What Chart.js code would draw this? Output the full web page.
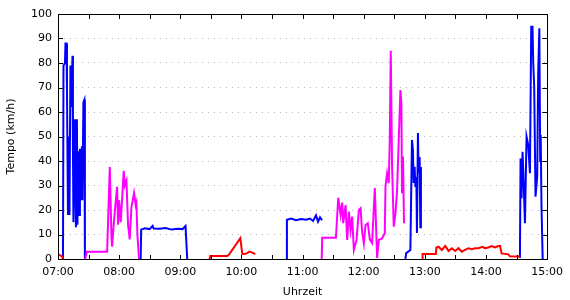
<!DOCTYPE html>
<html>
<head>
<meta charset="utf-8">
<script src="https://cdn.jsdelivr.net/npm/chart.js@4.4.1/dist/chart.umd.min.js"></script>
<style>
	html, body { margin: 0; padding: 0; background: #fff; }
	#wrap { width: 570px; height: 300px; }
</style>
</head>
<body>
<div id="wrap"><canvas id="chart" width="570" height="300"></canvas></div>
<script>
// clock time and speed (km/h), null speed = gap between track parts
var redTimes = ['07:00:00', '07:02:00', '07:03:36', '07:05:10',
	'07:06:00',
	'09:28:36', '09:29:34', '09:46:12', '09:48:09', '09:58:54', '10:00:51', '10:02:49', '10:05:45', '10:07:42', '10:10:38', '10:13:34',
	'10:20:00',
	'12:57:18', '12:57:47', '13:10:48', '13:11:12', '13:13:26', '13:16:42', '13:19:59', '13:23:13', '13:26:27', '13:29:46', '13:33:00',
	'13:36:14', '13:39:31', '13:42:45', '13:45:59', '13:49:18', '13:52:32', '13:56:27', '13:59:04', '14:02:20', '14:05:35', '14:08:51',
	'14:12:05', '14:13:45', '14:15:20', '14:21:53', '14:23:31', '14:31:38', '14:33:18'];
var redSpeeds = [1.8, 1.6, 1.1, 0,
	null,
	0, 1.2, 1.2, 2, 8.5, 2, 2, 2.4, 3, 2.6, 2,
	null,
	0, 2, 2, 4.6, 5, 3.7, 5.3, 3.3, 4.4, 3.3, 4.4,
	3, 3.7, 4.4, 4, 4.4, 4.4, 5, 4.4, 4.7, 5.3, 4.7,
	5.3, 5.3, 2.3, 1.9, 1.1, 1, 0.8];

var magentaTimes = ['07:26:40', '07:28:21', '07:48:12', '07:50:50', '07:52:30', '07:53:05', '07:55:14', '07:57:58', '07:58:57', '07:59:56',
	'08:01:35', '08:04:31', '08:05:30', '08:07:10', '08:08:44', '08:10:23', '08:12:03', '08:14:36', '08:16:15', '08:16:56', '08:17:55', '08:19:29',
	'08:30:00',
	'11:18:46', '11:19:15', '11:32:44', '11:35:00', '11:37:20', '11:38:54', '11:39:53', '11:42:13', '11:43:47', '11:45:27', '11:47:07',
	'11:48:40', '11:50:20', '11:52:58', '11:55:14', '11:56:54', '11:58:28', '12:00:08', '12:01:46', '12:04:01', '12:06:00', '12:08:14',
	'12:10:53', '12:13:08', '12:14:48', '12:18:02', '12:20:40', '12:21:21', '12:22:55', '12:24:35', '12:25:33', '12:26:32', '12:27:50',
	'12:29:29', '12:31:09', '12:32:44', '12:34:22', '12:36:01', '12:36:59', '12:37:35', '12:38:33', '12:39:32'];
var magentaSpeeds = [0, 3, 3, 37.5, 8.5, 5, 17, 29.5, 14, 24,
	15, 36, 30, 32, 14, 8, 21, 27, 22, 23, 10, 0,
	null,
	0, 8.7, 8.7, 25, 18, 23, 14.6, 22, 7.8, 19.3, 11.8,
	17.3, 3.7, 7.8, 20, 20.7, 11, 6.4, 13.9, 14.6, 8, 6.5,
	29, 0.4, 7.8, 8.4, 10.5, 29.5, 35, 31, 48.6, 85, 37.7,
	13.2, 18.6, 28, 48.6, 69, 63.5, 26.8, 41.8, 14.6];

var blueTimes = ['07:04:54', '07:05:23', '07:06:50', '07:07:20', '07:08:19', '07:08:48', '07:09:47', '07:10:45', '07:11:15', '07:12:13',
	'07:13:12', '07:14:11', '07:14:40', '07:15:09', '07:16:08', '07:16:37', '07:17:36', '07:18:34', '07:19:04', '07:20:02', '07:21:01',
	'07:21:30', '07:22:29', '07:23:28', '07:23:57', '07:24:56', '07:25:54', '07:26:24',
	'07:40:00',
	'08:21:08', '08:21:37', '08:25:03', '08:29:56', '08:32:53', '08:33:51', '08:39:43', '08:45:35', '08:51:27', '08:57:19', '09:02:12',
	'09:05:08', '09:06:48',
	'09:20:00',
	'10:44:09', '10:44:38', '10:48:45', '10:53:39', '10:58:32', '11:03:25', '11:07:20', '11:10:16', '11:13:12', '11:15:10', '11:17:07', '11:19:05',
	'11:30:00',
	'12:40:54', '12:41:42', '12:45:47', '12:47:20', '12:48:18', '12:49:00', '12:49:59', '12:50:40', '12:51:38', '12:52:14', '12:53:12',
	'12:53:53', '12:54:52', '12:55:33', '12:56:08',
	'13:30:00',
	'14:33:18', '14:33:54', '14:34:52', '14:35:51', '14:36:36', '14:38:13', '14:39:47', '14:41:28', '14:43:07', '14:44:23', '14:45:38',
	'14:46:19', '14:47:17', '14:48:35', '14:50:14', '14:51:12', '14:52:20', '14:53:10', '14:53:40', '14:54:26', '14:55:36'];
var blueSpeeds = [0, 79, 80, 88, 88, 69, 18, 50, 18, 79,
	62, 83, 45, 15, 42, 57, 13, 57, 14, 44, 18,
	45, 24, 46, 24, 64, 65, 0,
	null,
	0, 12, 12.5, 12.2, 13.5, 12.4, 12.3, 12.6, 12, 12.3, 12.2,
	13.5, 0,
	null,
	0, 16, 16.5, 15.8, 16.3, 16, 16.5, 15.5, 17.8, 15.2, 17, 15.8,
	null,
	0, 2.4, 3.7, 48.6, 44.5, 31, 37.6, 29.4, 33.5, 10.6, 51.4,
	35, 41.6, 13, 37.6,
	null,
	0.4, 41, 24.8, 43.8, 35.6, 14.6, 50, 46.5, 35, 94.8, 94.8,
	80.5, 70.3, 25.4, 33.6, 75.8, 94.2, 40, 50.6, 22, 0];

var hourTicks = ['07:00', '08:00', '09:00', '10:00', '11:00', '12:00', '13:00', '14:00', '15:00'];

function toHours(t) {
	var p = t.split(':');
	return +p[0] + p[1] / 60 + (p[2] || 0) / 3600;
}

function points(times, speeds) {
	return times.map(function (t, i) {
		return { x: toHours(t), y: speeds[i] };
	});
}

// black frame round the plot with small inward ticks
var framePlugin = {
	id: 'frame',
	afterDatasetsDraw: function (chart) {
		var ctx = chart.ctx;
		var a = chart.chartArea;
		var xs = chart.scales.x;
		var ys = chart.scales.y;
		ctx.save();
		ctx.strokeStyle = '#000';
		ctx.lineWidth = 1;
		ctx.beginPath();
		ys.ticks.forEach(function (tk) {
			var y = Math.round(ys.getPixelForValue(tk.value)) + 0.5;
			ctx.moveTo(a.left, y); ctx.lineTo(a.left + 5, y);
			ctx.moveTo(a.right, y); ctx.lineTo(a.right - 5, y);
		});
		xs.ticks.forEach(function (tk) {
			var x = Math.round(xs.getPixelForValue(tk.value)) + 0.5;
			ctx.moveTo(x, a.top); ctx.lineTo(x, a.top + 5);
			ctx.moveTo(x, a.bottom); ctx.lineTo(x, a.bottom - 4);
		});
		ctx.stroke();
		ctx.strokeRect(Math.round(a.left) + 0.5, Math.round(a.top) + 0.5, Math.round(a.right - a.left), Math.round(a.bottom - a.top));
		ctx.restore();
	}
};

Chart.defaults.font.family = 'DejaVu Sans';
Chart.defaults.font.size = 11;
Chart.defaults.color = '#000';

var ctx = document.getElementById('chart').getContext('2d');

var chart = new Chart(ctx, {
	type: 'line',
	data: {
		datasets: [
			{ data: points(redTimes, redSpeeds), borderColor: '#ff0000' },
			{ data: points(magentaTimes, magentaSpeeds), borderColor: '#ff00ff' },
			{ data: points(blueTimes, blueSpeeds), borderColor: '#0000ff' }
		]
	},
	options: {
		responsive: false,
		animation: false,
		devicePixelRatio: 1,
		spanGaps: false,
		elements: {
			line: { borderWidth: 2, tension: 0 },
			point: { radius: 0 }
		},
		layout: { padding: { top: 14, right: 21, left: 0, bottom: 1 } },
		plugins: {
			legend: { display: false },
			tooltip: { enabled: false }
		},
		scales: {
			x: {
				type: 'linear',
				min: 7,
				max: 15,
				grid: { display: false, drawTicks: false },
				border: { display: false },
				ticks: {
					stepSize: 0.5,
					autoSkip: false,
					maxRotation: 0,
					padding: 7,
					callback: function (v) {
						return Number.isInteger(v) ? hourTicks[v - 7] : '';
					}
				},
				title: { display: true, text: 'Uhrzeit', padding: { top: 4, bottom: 0 } },
				afterFit: function (s) { s.height = 40; }
			},
			y: {
				min: 0,
				max: 100,
				grid: { color: '#bbbbbb', drawTicks: false },
				border: { display: false, dash: [1, 5] },
				ticks: { stepSize: 10, padding: 6 },
				title: { display: true, text: 'Tempo (km/h)', padding: { top: 5, bottom: 0 } },
				afterFit: function (s) { s.width = 58; }
			}
		}
	},
	plugins: [framePlugin]
});
</script>
</body>
</html>
